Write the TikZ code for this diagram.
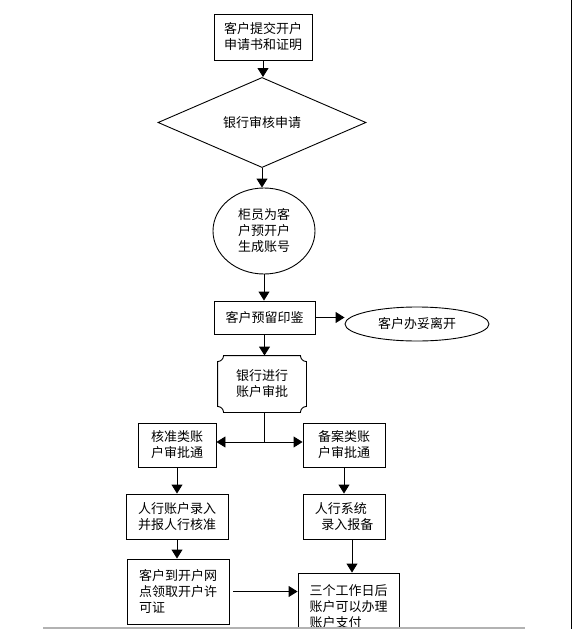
\documentclass[tikz,border=0pt]{standalone}
\usepackage{fontspec}
\setmainfont{Noto Sans CJK SC}
\usetikzlibrary{shapes.geometric,arrows.meta}

\begin{document}
\begin{tikzpicture}[x=1pt,y=-1pt,line width=0.9pt,
    every node/.style={font=\fontsize{13}{16}\selectfont},
    tip/.style={-{Triangle[width=11pt,length=9pt]}},
    box/.style={draw,rectangle,align=left,inner sep=0pt}]
  \useasboundingbox (0,0) rectangle (572,629);
  \clip (0,0) rectangle (572,629);
  \def \Boxes {
    apply/263/37/98/46/客户提交开户\\申请书和证明,
    seal/264.5/317.5/101/33/客户预留印鉴,
    hezhun/177/445/78/44/核准类账\\户审批通,
    beian/344/445/82/44/备案类账\\户审批通,
    report/177/516.5/102/45/人行账户录入\\并报人行核准,
    record/344/516.5/82/45/人行系统\\\hspace*{0.5em}录入报备,
    permit/178/591.5/102/65/客户到开户网\\点领取开户许\\可证,
    usable/348.5/607/101/68/三个工作日后\\账户可以办理\\账户支付}
  \def \Edges {
    apply/check,
    check/teller,
    teller/seal,
    seal/approve,
    hezhun/report,
    beian/record,
    report/permit}

  \foreach \id / \x / \y / \w / \h / \t in \Boxes {
    \node[box,minimum width=\w pt,minimum height=\h pt] (\id) at (\x, \y) {\t};
  }
  \node[draw,diamond,inner sep=0pt,minimum width=208pt,minimum height=81pt] (check) at (262,122.5) {银行审核申请};
  \node[draw,ellipse,inner sep=0pt,minimum width=102pt,minimum height=86pt,align=center] (teller) at (264,231) {柜员为客\\户预开户\\生成账号};
  \node[draw,ellipse,inner sep=0pt,minimum width=144pt,minimum height=34pt] (leave) at (417,324) {客户办妥离开};
  \node[inner sep=0pt,minimum width=88pt,minimum height=56pt,align=center] (approve) at (262,384) {银行进行\\账户审批};
  % inward corners
  \draw ([xshift=6pt]approve.north west) -- ([xshift=-6pt]approve.north east)
    arc[start angle=180,end angle=270,radius=6pt] -- ([yshift=6pt]approve.south east)
    arc[start angle=90,end angle=180,radius=6pt] -- ([xshift=6pt]approve.south west)
    arc[start angle=0,end angle=90,radius=6pt] -- ([yshift=-6pt]approve.north west)
    arc[start angle=270,end angle=360,radius=6pt] -- cycle;

  \foreach \a / \b in \Edges {
    \draw[tip] (\a.south) -- (\a.south |- \b.north);
  }
  \coordinate (fork) at (264,442);
  \draw (approve.south -| fork) -- (fork);
  \draw[tip] (fork) -- (fork -| hezhun.east);
  \draw[tip] (fork) -- (fork -| beian.west);
  \draw[tip] (seal.east) -- (seal.east -| leave.west);
  \draw[tip] ([xshift=8pt]record.south) -- ([xshift=8pt]record.south |- usable.north);
  \draw[tip,shorten <=4pt] (permit.east) -- (permit.east -| usable.west);

  % page edges
  \draw[line width=1pt] (571,0) -- (571,629);
  \draw[gray!60,line width=1.2pt] (43,628) -- (525,628);
\end{tikzpicture}
\end{document}
